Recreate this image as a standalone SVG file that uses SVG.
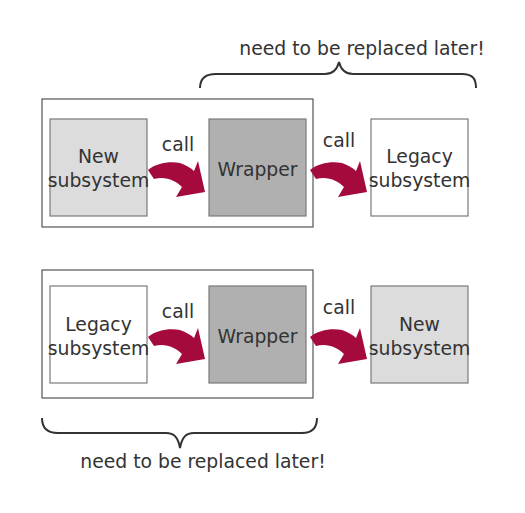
<svg xmlns="http://www.w3.org/2000/svg" xmlns:xlink="http://www.w3.org/1999/xlink" width="525" height="513" viewBox="0 0 525 513">
<style>
text{font-family:"DejaVu Sans","Liberation Sans",sans-serif;font-size:18.8px;fill:#333;text-anchor:middle}
.outer{fill:#fff;stroke:#333;stroke-width:1}
.box{stroke:#7a7a7a;stroke-width:1.2}
.new{fill:#dcdcdc}
.wrap{fill:#b0b0b0}
.leg{fill:#fff}
.arrow{fill:#a50a3c}
.brace{fill:none;stroke:#333;stroke-width:2}
</style>
<defs>
<path id="arr" d="M148,170 C156,163 170,161 180,163 C186,165 191,168 194,171 L198,161 L205,192 L176,197 L182,187 C176,181 166,176 154,179 Z"/>
</defs>
<rect width="525" height="513" fill="#fff"/>
<g id="top-group"><rect class="outer" x="42" y="99" width="271" height="128"/></g>
<g id="top-new"><rect class="box new" x="50" y="119" width="97" height="97"/><text x="98.5" y="163">New</text><text x="98.5" y="187">subsystem</text></g>
<g id="top-wrapper"><rect class="box wrap" x="209" y="119" width="97" height="97"/><text x="257.5" y="176">Wrapper</text></g>
<g id="top-legacy"><rect class="box leg" x="371" y="119" width="97" height="97"/><text x="419.5" y="163">Legacy</text><text x="419.5" y="187">subsystem</text></g>
<g id="bottom-group"><rect class="outer" x="42" y="270" width="271" height="128"/></g>
<g id="bottom-legacy"><rect class="box leg" x="50" y="286" width="97" height="97"/><text x="98.5" y="331">Legacy</text><text x="98.5" y="355">subsystem</text></g>
<g id="bottom-wrapper"><rect class="box wrap" x="209" y="286" width="97" height="97"/><text x="257.5" y="343">Wrapper</text></g>
<g id="bottom-new"><rect class="box new" x="371" y="286" width="97" height="97"/><text x="419.5" y="331">New</text><text x="419.5" y="355">subsystem</text></g>
<g id="connectors">
<use xlink:href="#arr" href="#arr" class="arrow"/>
<use xlink:href="#arr" href="#arr" class="arrow" transform="translate(162,0)"/>
<use xlink:href="#arr" href="#arr" class="arrow" transform="translate(0,167)"/>
<use xlink:href="#arr" href="#arr" class="arrow" transform="translate(162,167)"/>
<text x="178" y="151">call</text>
<text x="339" y="147">call</text>
<text x="178" y="318">call</text>
<text x="339" y="314">call</text>
</g>
<g id="top-brace">
<path class="brace" d="M200,88 C200,78 206,74 216,74 L325,74 C333,74 337,70 339,62 C341,70 345,74 353,74 L462,74 C472,74 476,78 476,88"/>
<text x="362" y="55">need to be replaced later!</text>
</g>
<g id="bottom-brace">
<path class="brace" d="M42,418 C42,428 48,433 58,433 L166,433 C174,433 178,437 180,448 C182,437 186,433 194,433 L302,433 C312,433 317,428 317,418"/>
<text x="203" y="468">need to be replaced later!</text>
</g>
</svg>
